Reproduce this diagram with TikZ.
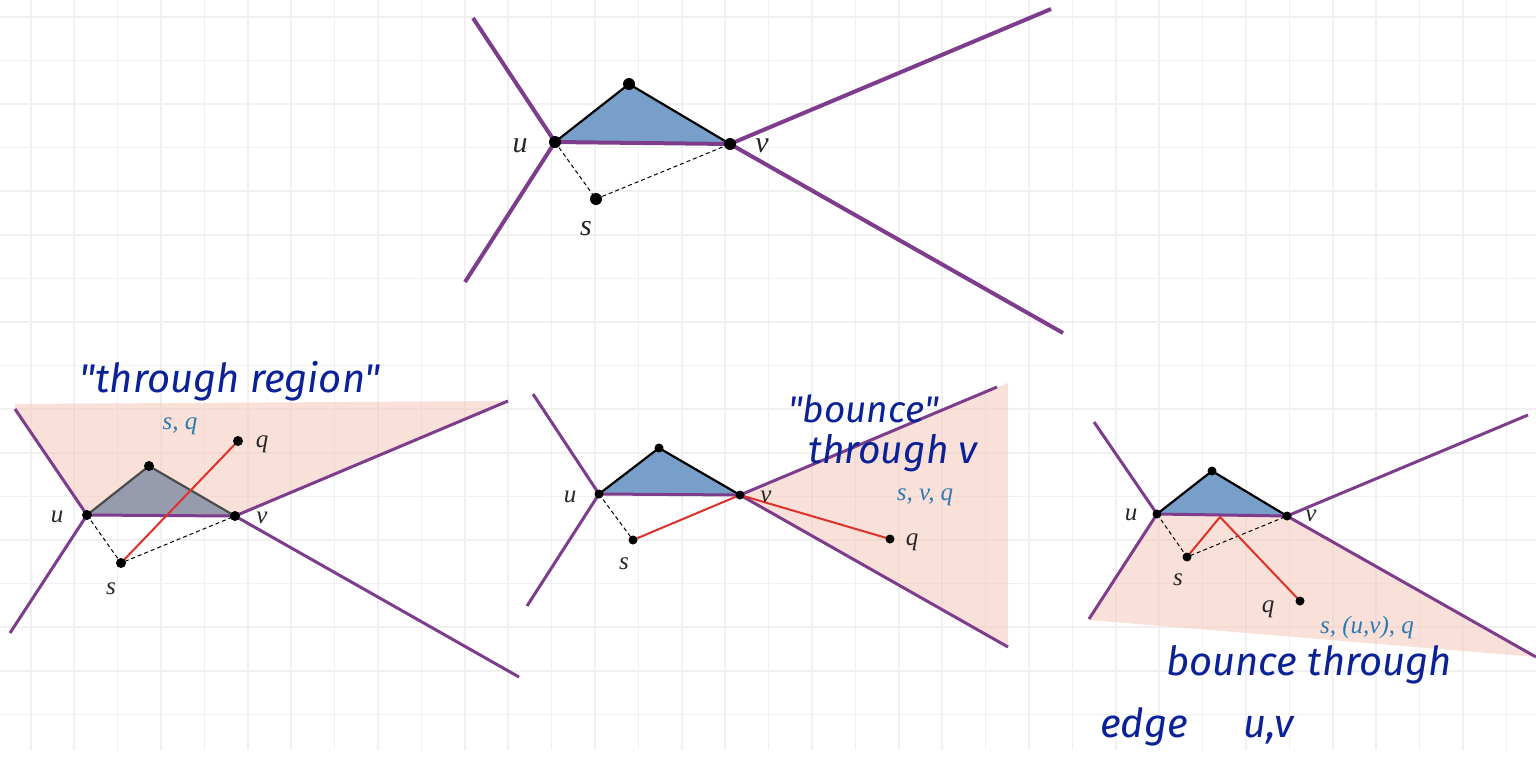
\documentclass[tikz,border=0pt]{standalone}
\usepackage{fontspec}
\setmainfont{Liberation Serif}
\newfontfamily\handfont{Fira Sans}
\usetikzlibrary{positioning}

\definecolor{wallc}{HTML}{7D3C8C}
\definecolor{trifill}{HTML}{789FC9}
\definecolor{trigray}{HTML}{969BAE}
\definecolor{regionc}{HTML}{F4C4B6}
\definecolor{rayc}{HTML}{E0302A}
\definecolor{tagc}{HTML}{2E7AB0}
\definecolor{inkc}{HTML}{0B2196}
\definecolor{gridc}{HTML}{F0F0F0}

\tikzset{
  gridline/.style={gridc, line width=1.6pt},
  region/.style={fill=regionc, fill opacity=0.5},
  wall/.style={wallc, line width=3pt},
  bigwall/.style={wallc, line width=4pt},
  tri/.style={fill=trifill, draw=black, line width=2.2pt, line join=round},
  guide/.style={black, line width=1pt, dash pattern=on 4pt off 3pt},
  ray/.style={rayc, line width=2pt},
  lab/.style={font=\fontsize{25}{28}\selectfont\itshape, text=black!85},
  biglab/.style={font=\fontsize{30}{33}\selectfont\itshape, text=black!85},
  tag/.style={font=\fontsize{25}{28}\selectfont\itshape, text=tagc},
  hand/.style={font=\handfont\itshape\fontsize{40}{44}\selectfont, text=inkc, inner sep=0pt},
}

\begin{document}
\begin{tikzpicture}[x=1pt, y=-1pt]
  \useasboundingbox (0,0) rectangle (1536,756);
  \fill[white] (0,0) rectangle (1536,756);
  % 方眼
  \foreach \i in {0,...,34} \draw[gridline] ({30.7+43.4*\i},0) -- ({30.7+43.4*\i},750);
  \foreach \j in {0,...,16} \draw[gridline] (0,{16.7+43.6*\j}) -- (1536,{16.7+43.6*\j});

  % 上: 三角形と辺 (u,v)
  \coordinate (Tu) at (555,142);
  \coordinate (Tv) at (730,144);
  \coordinate (Tw) at (629,84);
  \coordinate (Ts) at (596,199);
  \filldraw[tri] (Tu) -- (Tw) -- (Tv);
  \draw[bigwall] (Tu) -- (473,18);
  \draw[bigwall] (Tu) -- (465,282);
  \draw[bigwall] (Tv) -- (1051,9);
  \draw[bigwall] (Tv) -- (1063,333);
  \draw[bigwall] (Tu) -- (Tv);
  \draw[guide] (Tu) -- (Ts) -- (Tv);
  \foreach \p in {Tu,Tv,Tw,Ts} \fill (\p) circle (6pt);
  \node[biglab] (Tul) at (520,146) {u};
  \node[biglab] (Tvl) at (762,146) {v};
  \node[biglab] (Tsl) at (586,229) {s};

  % 左下: through region
  \coordinate (Au) at (87,515);
  \coordinate (Av) at (235,516);
  \coordinate (Aw) at (149,466);
  \coordinate (As) at (121,563);
  \coordinate (Aq) at (238,441);
  \fill[region] (15,404) -- (508,401) -- (Av) -- (Au) -- (15,409) -- cycle;
  \filldraw[tri, fill=trigray, draw=black!70] (Au) -- (Aw) -- (Av);
  \draw[wall] (Au) -- (15,409);
  \draw[wall] (Au) -- (10,633);
  \draw[wall] (Av) -- (508,401);
  \draw[wall] (Av) -- (519,677);
  \draw[wall] (Au) -- (Av);
  \draw[guide] (Au) -- (As) -- (Av);
  \draw[ray] (As) -- (Aq);
  \foreach \p in {Au,Av,Aw,As,Aq} \fill (\p) circle (5pt);
  \node[lab] (Aul) at (57,517) {u};
  \node[lab] (Avl) at (262,518) {v};
  \node[lab] (Asl) at (111,589) {s};
  \node[lab] (Aql) at (262,444) {q};
  \node[tag] (Atag) at (180,426) {s, q};
  \node[hand, anchor=base] (Ahand) at (230,392) {"through region"};

  % 中央下: v で跳ね返る
  \coordinate (Bu) at (599,494);
  \coordinate (Bv) at (740,495);
  \coordinate (Bw) at (659,448);
  \coordinate (Bs) at (633,540);
  \coordinate (Bq) at (890,539);
  \fill[region] (Bv) -- (1008,383) -- (1008,645) -- cycle;
  \filldraw[tri] (Bu) -- (Bw) -- (Bv);
  \draw[wall] (Bu) -- (533,394);
  \draw[wall] (Bu) -- (527,606);
  \draw[wall] (Bv) -- (997,387);
  \draw[wall] (Bv) -- (1008,647);
  \draw[wall] (Bu) -- (Bv);
  \draw[guide] (Bu) -- (Bs) -- (Bv);
  \draw[ray] (Bs) -- (Bv) -- (Bq);
  \foreach \p in {Bu,Bv,Bw,Bs,Bq} \fill (\p) circle (4.5pt);
  \node[lab] (Bul) at (570,497) {u};
  \node[lab] (Bvl) at (766,497) {v};
  \node[lab] (Bsl) at (624,564) {s};
  \node[lab] (Bql) at (912,542) {q};
  \node[tag] (Btag) at (925,497) {s, v, q};
  \node[hand, anchor=base west, font=\handfont\itshape\fontsize{37}{40}\selectfont] (Bhand) at (788,422) {"bounce"};
  \node[hand, anchor=base west, font=\handfont\itshape\fontsize{39}{42}\selectfont] (Bhand2) at (808,463) {through v};

  % 右下: 辺 (u,v) で跳ね返る
  \coordinate (Cu) at (1157,514);
  \coordinate (Cv) at (1287,516);
  \coordinate (Cw) at (1212,471);
  \coordinate (Cs) at (1187,557);
  \coordinate (Cq) at (1300,601);
  \coordinate (Cr) at (1220,517);
  \fill[region] (Cu) -- (Cv) -- (1536,657) -- (1089,620) -- cycle;
  \filldraw[tri] (Cu) -- (Cw) -- (Cv);
  \draw[wall] (Cu) -- (1094,422);
  \draw[wall] (Cu) -- (1089,619);
  \draw[wall] (Cv) -- (1528,415);
  \draw[wall] (Cv) -- (1536,657);
  \draw[wall] (Cu) -- (Cv);
  \draw[guide] (Cu) -- (Cs) -- (Cv);
  \draw[ray] (Cs) -- (Cr) -- (Cq);
  \foreach \p in {Cu,Cv,Cw,Cs,Cq} \fill (\p) circle (4.5pt);
  \node[lab] (Cul) at (1131,515) {u};
  \node[lab] (Cvl) at (1311,516) {v};
  \node[lab] (Csl) at (1178,580) {s};
  \node[lab] (Cql) at (1268,609) {q};
  \node[tag] (Ctag) at (1367,627) {s, (u,v), q};
  \node[hand, anchor=base west] (Chand) at (1166,675) {bounce through};
  \node[hand, anchor=base west] (Chand2) at (1100,737) {edge\hspace{55pt}u,v};
\end{tikzpicture}
\end{document}
